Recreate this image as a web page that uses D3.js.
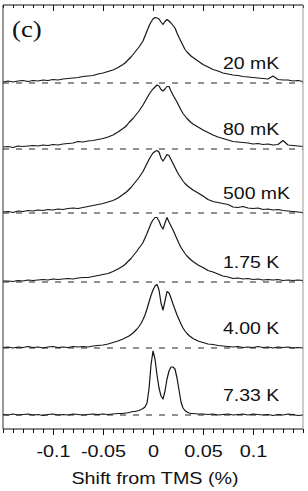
<!DOCTYPE html>
<html>
<head>
<meta charset="utf-8">
<script src="https://cdn.jsdelivr.net/npm/d3@7"></script>
<style>
  html, body { margin: 0; padding: 0; background: #fff; }
  svg { display: block; }
</style>
</head>
<body>
<svg id="canvas" width="308" height="491"></svg>
<script>
// shift from TMS (%) sample points
const shift = [
  -0.150, -0.145, -0.140, -0.135, -0.130, -0.125, -0.120, -0.115, -0.110, -0.105,
  -0.100, -0.095, -0.090, -0.085, -0.080, -0.075, -0.070, -0.065, -0.060, -0.055,
  -0.050, -0.045, -0.040, -0.035, -0.030,
  -0.028, -0.026, -0.024, -0.022, -0.020, -0.018, -0.016, -0.014, -0.012, -0.010,
  -0.008, -0.006, -0.004, -0.002, 0.000, 0.002, 0.004, 0.006, 0.008, 0.010,
  0.012, 0.014, 0.016, 0.018, 0.020, 0.022, 0.024, 0.026, 0.028, 0.030,
  0.032, 0.034, 0.036, 0.038,
  0.040, 0.045, 0.050, 0.055, 0.060, 0.065, 0.070, 0.075, 0.080, 0.085,
  0.090, 0.095, 0.100, 0.105, 0.110, 0.115, 0.120, 0.125, 0.130, 0.135,
  0.140, 0.145, 0.150
];

const temperatures = ["20 mK", "80 mK", "500 mK", "1.75 K", "4.00 K", "7.33 K"];
// vertical offset of each spectrum (a.u.)
const offsets = [332, 266, 202, 133, 67, 0];

const i20mK = [
  1, 2, 1, 2, 2.5, 1.5, 2.5, 2, 3, 2.5, 3.5, 3, 4, 4.5, 5, 5.5, 6.5, 7, 7.5, 9, 10, 11.5, 13, 15.5, 18.5,
  20, 22, 24, 26, 28.5, 31, 33.5, 36, 39, 42, 47, 52, 57, 61, 64, 65.5, 65, 64, 61, 58.5,
  61.5, 63.5, 62, 60, 57.5, 55, 50, 45.5, 41.5, 37.5, 33.5, 31, 29, 27,
  25.5, 22, 18.5, 16, 13.5, 12, 10, 9, 8, 7.5, 6.5, 6, 5.5, 5, 4.5, 4, 7, 3.5, 3, 3, 2, 2.5, 1.5
];
const i80mK = [
  2, 2.5, 1.5, 3, 2.5, 3, 3.5, 3, 4, 3.5, 4.5, 4, 5, 5.5, 6, 7.5, 7, 8, 8.5, 9.5, 10.5, 12, 14, 17, 20.5,
  22, 24, 26.5, 28.5, 30.5, 33, 35.5, 38, 41, 44, 47.5, 51, 54.5, 57.5, 60, 62, 64, 63, 59.5, 58,
  60, 62.5, 62.5, 58, 54, 50.5, 47, 43, 39, 35.5, 33, 30.5, 28.5, 26.5,
  25, 22, 19, 16.5, 14, 12, 10.5, 9, 7.5, 7, 6.5, 6, 5, 5.5, 4.5, 5, 4, 4.5, 8.5, 4, 3.5, 3, 2.5
];
const i500mK = [
  1, 1.5, 0.5, 2, 1.5, 2.5, 2, 3, 2.5, 3.5, 3, 4, 3.5, 4.5, 5, 4.5, 5.5, 6.5, 7.5, 8.5, 9.5, 11, 12.5, 15, 18.5,
  20, 21.5, 23.5, 25.5, 28, 30.5, 33, 35.5, 38.5, 41.5, 45.5, 49.5, 53.5, 57, 60, 61.5, 62.5, 61, 55, 52,
  55, 58.5, 57.5, 53.5, 49.5, 45.5, 41.5, 38, 35, 32, 29.5, 27.5, 26, 24.5,
  23, 20, 17, 13.5, 11.5, 10.5, 9.5, 8.5, 6, 5.5, 6.5, 5, 4.5, 5, 3.5, 4, 3, 3.5, 2.5, 2, 1.5, 1, 0.5
];
const i175K = [
  1, 1, 0.5, 1.5, 1, 2, 1.5, 2, 2.5, 2, 3, 2.5, 3, 3.5, 3, 4, 4.5, 4.5, 5.5, 6.5, 7.5, 8.5, 10.5, 13, 16,
  17.5, 19.5, 21.5, 23.5, 26, 28.5, 31, 34, 36.5, 39.5, 44, 48.5, 53.5, 58.5, 62, 64.5, 64.5, 61, 56, 53,
  59, 64.5, 60, 56, 52, 47.5, 43, 38.5, 34.5, 31.5, 28.5, 26, 24, 22,
  20.5, 17, 14.5, 11.5, 10, 8, 6, 5, 3.5, 4, 3, 3.5, 2.5, 3, 2, 2.5, 2, 2.5, 1.5, 2, 1.5, 2, 1.5
];
const i400K = [
  0.5, 1, 0, 1, 0.5, 1.5, 0.5, 1, 0, 1, 1.5, 0.5, 1, 0.5, 1.5, 1, 1.5, 1, 2, 2.5, 3, 4, 5.5, 7, 9,
  10, 11, 12, 13.5, 15, 17, 19, 21.5, 24.5, 28.5, 33, 39, 46, 52.5, 58, 62, 63.5, 58, 45, 38,
  47, 56.5, 55, 50, 44, 38.5, 33, 28.5, 24, 20, 17, 14.5, 12.5, 11,
  9.5, 7, 5.5, 4, 3.5, 2.5, 2, 1.5, 1, 1.5, 0.5, 1, 0.5, 1.5, 0.5, 1, 0, 1, 0.5, 1, 0, 0.5, 0
];
const i733K = [
  0.5, 0, 1, 0, 0.5, 1, 0, 0.5, -0.5, 0.5, 1, 0, 0.5, 0, 1, 0.5, 0, 0.5, 1, 0.5, 1, 0.5, 1, 1.5, 1.5,
  2, 2, 2.5, 3, 3.5, 3.5, 4, 4.5, 5.5, 6.5, 8, 12, 26, 50, 64, 56, 40, 27, 19, 16,
  24, 36, 44, 48, 48, 46, 37, 25, 13, 7, 4.5, 3, 2, 1.5,
  1.5, 1, 1, 0.5, 1, 0, 0.5, 1, 0, 0.5, 1, 0, 1, 0.5, 0, 0.5, -0.5, 0.5, 0, 1, 0.5, -0.5, 0
];

const majorTicks = [-0.1, -0.05, 0, 0.05, 0.1];
const majorLabels = ["-0.1", "-0.05", "0", "0.05", "0.1"];

const spectra = [i20mK, i80mK, i500mK, i175K, i400K, i733K];

const svg = d3.select("#canvas");

const plotLeft = 3, plotRight = 303, plotTop = 5, plotBottom = 429;

const x = d3.scaleLinear().domain([-0.15, 0.15]).range([plotLeft, plotRight]);
const y = d3.scaleLinear().domain([-14, 410]).range([plotBottom, plotTop]);

const minorTicks = d3.range(-15, 16).map(d => d / 100);

// Dashed baselines
offsets.forEach(off => {
    svg.append("line")
        .attr("x1", x(-0.15))
        .attr("x2", x(0.15))
        .attr("y1", y(off))
        .attr("y2", y(off))
        .attr("stroke", "#222")
        .attr("stroke-width", 1)
        .attr("stroke-dasharray", "6,7");
});

// Spectra
const line = d3.line()
    .x(d => x(d[0]))
    .y(d => y(d[1]));

spectra.forEach((vals, i) => {
    const pts = shift.map((s, j) => [s, vals[j] + offsets[i]]);
    svg.append("path")
        .datum(pts)
        .attr("fill", "none")
        .attr("stroke", "#151515")
        .attr("stroke-width", 1.2)
        .attr("stroke-linejoin", "round")
        .attr("d", line);

    svg.append("text")
        .attr("transform", `translate(223,${y(offsets[i]) - 14}) scale(1.18,1)`)
        .attr("font-family", "Liberation Sans, Arial, sans-serif")
        .attr("font-size", 16.5)
        .attr("fill", "#111")
        .text(temperatures[i]);
});

// Axes: top ticks point inward, bottom ticks point outward
function tickAxis(yPos, values, size) {
    const g = svg.append("g")
        .attr("transform", `translate(0,${yPos})`)
        .call(d3.axisBottom(x).tickValues(values).tickSize(size).tickSizeOuter(0).tickFormat(""));
    g.select(".domain").remove();
    g.selectAll("line").attr("stroke", "#111");
    return g;
}
tickAxis(plotTop, minorTicks, 3);
tickAxis(plotTop, majorTicks, 6);
tickAxis(plotBottom, minorTicks, 4);
tickAxis(plotBottom, majorTicks, 6);

const labels = svg.append("g")
    .attr("transform", `translate(0,${plotBottom})`)
    .call(d3.axisBottom(x).tickValues(majorTicks).tickSize(0).tickFormat((d, i) => majorLabels[i]));
labels.select(".domain").remove();
labels.selectAll("text")
    .attr("y", 28)
    .attr("dy", 0)
    .attr("transform", "scale(1.2,1)")
    .attr("font-family", "Liberation Sans, Arial, sans-serif")
    .attr("font-size", 16.5)
    .attr("fill", "#111");

// Frame
svg.append("line").attr("x1", plotLeft).attr("x2", plotRight).attr("y1", plotTop).attr("y2", plotTop)
    .attr("stroke", "#111");
svg.append("line").attr("x1", plotLeft).attr("x2", plotRight).attr("y1", plotBottom).attr("y2", plotBottom)
    .attr("stroke", "#111");
svg.append("line").attr("x1", plotLeft).attr("x2", plotLeft).attr("y1", plotTop).attr("y2", plotBottom)
    .attr("stroke", "#333");
svg.append("line").attr("x1", plotRight).attr("x2", plotRight).attr("y1", plotTop).attr("y2", plotBottom)
    .attr("stroke", "#999");

// Axis title
svg.append("text")
    .attr("transform", `translate(155,484) scale(1.16,1)`)
    .attr("text-anchor", "middle")
    .attr("font-family", "Liberation Sans, Arial, sans-serif")
    .attr("font-size", 17)
    .attr("fill", "#111")
    .text("Shift from TMS (%)");

// Panel label
svg.append("text")
    .attr("transform", "translate(12,37) scale(1.12,1)")
    .attr("font-family", "Liberation Serif, Times New Roman, serif")
    .attr("font-size", 24)
    .attr("fill", "#111")
    .text("(c)");
</script>
</body>
</html>
